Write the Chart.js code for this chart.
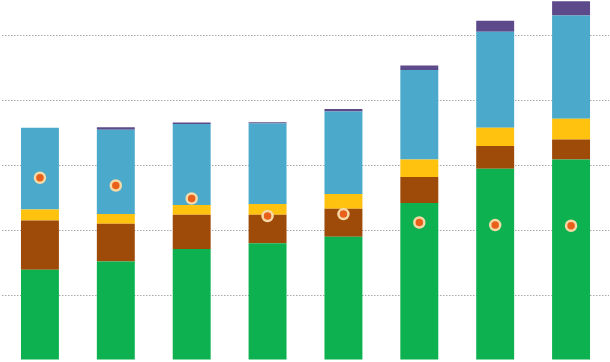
<!DOCTYPE html>
<html>
<head>
<meta charset="utf-8">
<script src="https://cdn.jsdelivr.net/npm/chart.js@4/dist/chart.umd.min.js"></script>
<style>
  html, body { margin: 0; padding: 0; background: #ffffff; }
  #wrap { width: 610px; height: 362px; position: relative; }
</style>
</head>
<body>
<div id="wrap"><canvas id="c"></canvas></div>
<script>
const categories = ["1", "2", "3", "4", "5", "6", "7", "8"];
const greenSeries  = [13.9, 15.2, 17.1, 18.0, 19.0, 24.2, 29.5, 30.9];
const brownSeries  = [7.6, 5.8, 5.3, 4.4, 4.3, 4.0, 3.5, 3.1];
const yellowSeries = [1.7, 1.5, 1.5, 1.65, 2.3, 2.7, 2.8, 3.2];
const blueSeries   = [12.6, 13.0, 12.5, 12.4, 12.7, 13.8, 14.8, 15.9];
const purpleSeries = [0.0, 0.4, 0.2, 0.2, 0.4, 0.7, 1.7, 2.2];
const dotSeries    = [28.1, 26.9, 24.9, 22.2, 22.5, 21.2, 20.8, 20.7];
const yMax = 55.5;
const yStep = 10;

const barCommon = { type: 'bar', stack: 'bars', order: 1, borderWidth: 0, barPercentage: 0.5, categoryPercentage: 1.0 };

new Chart(document.getElementById('c'), {
  data: {
    labels: categories,
    datasets: [
      Object.assign({ label: 'green',  data: greenSeries,  backgroundColor: '#0db14f' }, barCommon),
      Object.assign({ label: 'brown',  data: brownSeries,  backgroundColor: '#9e4a08' }, barCommon),
      Object.assign({ label: 'yellow', data: yellowSeries, backgroundColor: '#ffc20e' }, barCommon),
      Object.assign({ label: 'blue',   data: blueSeries,   backgroundColor: '#4baacb' }, barCommon),
      Object.assign({ label: 'purple', data: purpleSeries, backgroundColor: '#5d4a8a' }, barCommon),
      {
        type: 'line', label: 'dots', data: dotSeries, stack: 'dots', order: 0,
        showLine: false,
        pointRadius: 5, pointHoverRadius: 5,
        pointBackgroundColor: '#e8601a',
        pointBorderColor: '#f6d9a6',
        pointBorderWidth: 2.5
      }
    ]
  },
  options: {
    responsive: true,
    maintainAspectRatio: false,
    animation: false,
    layout: { autoPadding: false, padding: { left: 2, right: 1, top: 0, bottom: 2 } },
    plugins: { legend: { display: false }, tooltip: { enabled: false } },
    scales: {
      x: {
        stacked: true,
        display: false,
        grid: { display: false }
      },
      y: {
        stacked: true,
        min: 0,
        max: yMax,
        ticks: { display: false, stepSize: yStep },
        grid: {
          color: (ctx) => (ctx.tick && ctx.tick.value > 0 && ctx.tick.value % yStep === 0) ? '#a8a8a8' : 'rgba(0,0,0,0)',
          lineWidth: 1, drawTicks: false, tickLength: 0
        },
        border: { display: false, dash: [1.5, 1.5] }
      }
    }
  }
});
</script>
</body>
</html>
